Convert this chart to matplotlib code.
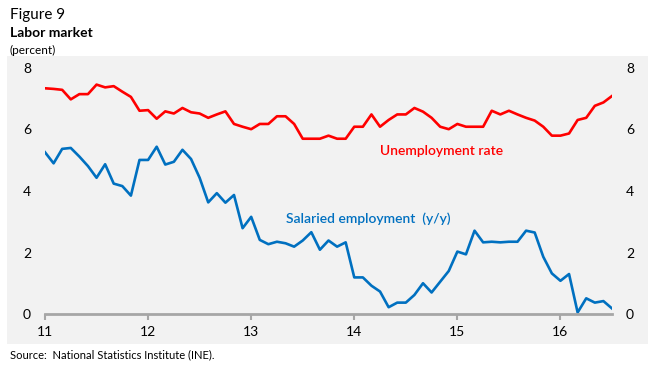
import numpy as np
import matplotlib
matplotlib.use('Agg')
import matplotlib.pyplot as plt
from matplotlib.patches import Rectangle

plt.rcParams['font.family'] = ['Lato', 'DejaVu Sans']

# monthly data, Jan 2011 - Jul 2016
unemployment = [7.34, 7.32, 7.29, 6.98, 7.15, 7.15, 7.46, 7.37, 7.41, 7.23, 7.06, 6.61,
                6.63, 6.35, 6.59, 6.52, 6.70, 6.56, 6.52, 6.38, 6.49, 6.59, 6.18, 6.09,
                6.01, 6.18, 6.18, 6.43, 6.43, 6.18, 5.70, 5.70, 5.70, 5.80, 5.70, 5.70,
                6.09, 6.09, 6.49, 6.09, 6.31, 6.49, 6.49, 6.70, 6.58, 6.38, 6.09, 6.01,
                6.18, 6.09, 6.09, 6.09, 6.61, 6.49, 6.61, 6.49, 6.38, 6.29, 6.09, 5.80,
                5.80, 5.87, 6.31, 6.38, 6.77, 6.88, 7.09]
salaried = [5.26, 4.90, 5.37, 5.40, 5.12, 4.81, 4.43, 4.87, 4.24, 4.16, 3.85, 5.01,
            5.01, 5.44, 4.86, 4.95, 5.34, 5.04, 4.43, 3.63, 3.93, 3.62, 3.87, 2.79,
            3.16, 2.41, 2.27, 2.35, 2.30, 2.19, 2.39, 2.66, 2.09, 2.39, 2.19, 2.33,
            1.19, 1.19, 0.92, 0.73, 0.22, 0.37, 0.37, 0.62, 1.00, 0.70, 1.05, 1.40,
            2.03, 1.94, 2.71, 2.33, 2.35, 2.33, 2.35, 2.35, 2.71, 2.65, 1.86, 1.32,
            1.08, 1.30, 0.05, 0.51, 0.37, 0.42, 0.18]
year_labels = ['11', '12', '13', '14', '15', '16']
y_ticks = [0, 2, 4, 6, 8]

months = np.arange(len(unemployment))

fig = plt.figure(figsize=(6.62, 3.70), dpi=100)
W, H = 662, 370
# light grey panel behind the chart
fig.patches.append(Rectangle((7 / W, 1 - 344 / H), 641 / W, 288 / H,
                             transform=fig.transFigure, facecolor='#f2f2f2',
                             edgecolor='none', zorder=-5))

ax = fig.add_axes([45 / W, 1 - 314 / H, 567 / W, 246 / H])
ax.set_zorder(1)
ax.patch.set_visible(False)

ax.plot(months, unemployment, color='#ff0000', lw=1.9, solid_joinstyle='round')
ax.plot(months, salaried, color='#0070c0', lw=1.9, solid_joinstyle='round')

ax.set_xlim(0, len(months) - 1)
ax.set_ylim(0, 8)
ax.set_xticks(np.arange(len(year_labels)) * 12)
ax.set_xticklabels(year_labels, fontsize=10)
ax.set_yticks(y_ticks)
ax.set_yticklabels([str(v) for v in y_ticks], fontsize=10)
ax.tick_params(axis='y', length=0, pad=10, labelright=True)
ax.tick_params(axis='x', length=4, width=1.5, color='#a6a6a6', pad=5)

for s in ['top', 'left', 'right']:
    ax.spines[s].set_visible(False)
ax.spines['bottom'].set_color('#a6a6a6')
ax.spines['bottom'].set_linewidth(2)

ax.text(39.0, 5.3, 'Unemployment rate', color='#ff0000', fontsize=10,
        fontweight='semibold', va='center', ha='left')
ax.text(28.1, 3.09, 'Salaried employment  (y/y)', color='#0070c0', fontsize=10,
        fontweight='semibold', va='center', ha='left')

fig.text(10 / W, 1 - 15 / H, 'Figure 9', fontsize=11, va='center', ha='left')
fig.text(10 / W, 1 - 33 / H, 'Labor market', fontsize=10, fontweight='bold',
         va='center', ha='left')
fig.text(10 / W, 1 - 50 / H, '(percent)', fontsize=8.5, va='center', ha='left')
fig.text(10 / W, 1 - 355 / H, 'Source:  National Statistics Institute (INE).',
         fontsize=8, va='center', ha='left')

fig.savefig('out.png', dpi=100)
